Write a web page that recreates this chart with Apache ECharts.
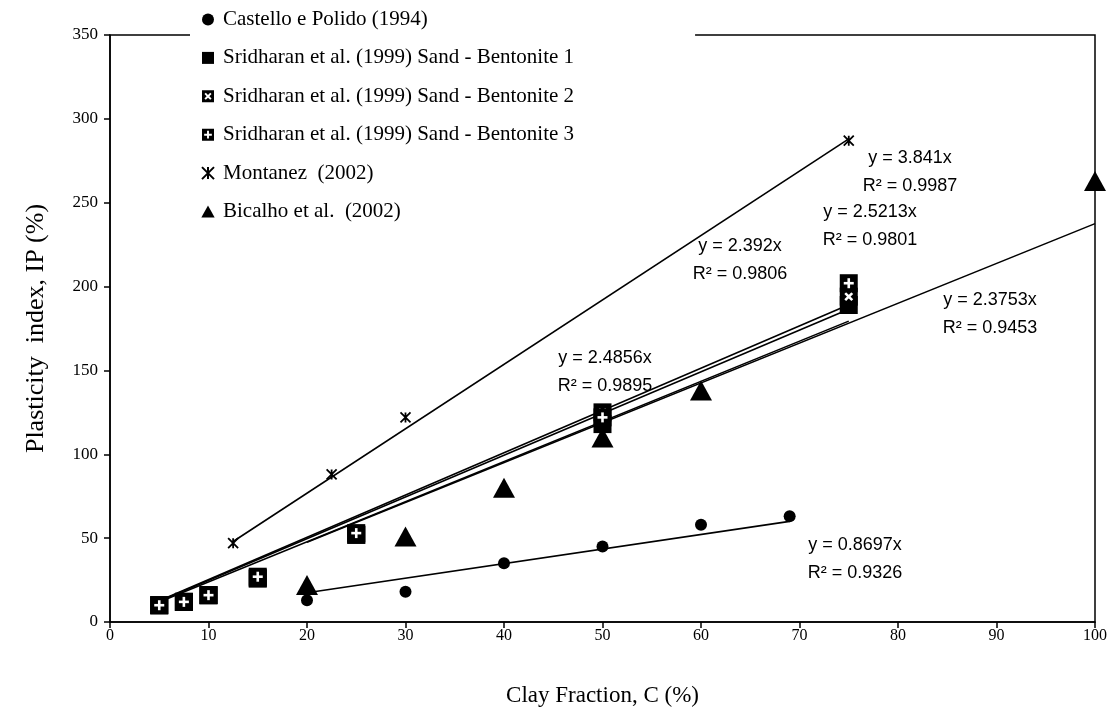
<!DOCTYPE html>
<html>
<head>
<meta charset="utf-8">
<script src="https://cdn.jsdelivr.net/npm/echarts@6/dist/echarts.min.js"></script>
<style>
  html, body { margin: 0; padding: 0; background: #fff; }
  #chart { width: 1107px; height: 720px; }
</style>
</head>
<body>
<div id="chart"></div>
<script>
// 数据：黏粒含量 C (%) 与塑性指数 IP (%)
const seriesNames = [
  'Castello e Polido (1994)',
  'Sridharan et al. (1999) Sand - Bentonite 1',
  'Sridharan et al. (1999) Sand - Bentonite 2',
  'Sridharan et al. (1999) Sand - Bentonite 3',
  'Montanez  (2002)',
  'Bicalho et al.  (2002)'
];

const castelloX = [20, 30, 40, 50, 60, 69];
const castelloY = [13, 18, 35, 45, 58, 63];

const sridharanX = [5, 7.5, 10, 15, 25, 50, 75];
const sridharan1Y = [10, 12, 16, 26, 52, 118, 189];
const sridharan2Y = [10, 12, 16, 26, 52, 125, 194];
const sridharan3Y = [10, 12, 16, 27, 53, 122, 202];

const montanezX = [12.5, 22.5, 30, 75];
const montanezY = [47, 88, 122, 287];

const bicalhoX = [20, 30, 40, 50, 60, 100];
const bicalhoY = [22, 51, 80, 110, 138, 263];

// 趋势线 (过原点) 的斜率与 R²，顺序同 seriesNames
const trendSlopes = [0.8697, 2.392, 2.4856, 2.5213, 3.841, 2.3753];
const trendR2 = ['0.9326', '0.9806', '0.9895', '0.9801', '0.9987', '0.9453'];

const xTicks = { min: 0, max: 100, interval: 10 };
const yTicks = { min: 0, max: 350, interval: 50 };

// 趋势线公式标签第一行的像素中心
const trendLabelPos = [
  [855, 545], [740, 246], [605, 358], [870, 212], [910, 158], [990, 300]
];

const pairs = (xs, ys) => xs.map((x, i) => [x, ys[i]]);

const allX = [castelloX, sridharanX, sridharanX, sridharanX, montanezX, bicalhoX];
const allY = [castelloY, sridharan1Y, sridharan2Y, sridharan3Y, montanezY, bicalhoY];

// 图例用：黑方块中挖出十字 / 叉号
function crossSquare(angleDeg, half, arm) {
  const a = angleDeg * Math.PI / 180;
  const lo = 5 - half, hi = 5 + half, s = 5 - arm, e = 5 + arm;
  const pts = [[lo, s], [lo, lo], [s, lo], [s, hi], [lo, hi], [lo, e],
               [hi, e], [hi, hi], [e, hi], [e, lo], [hi, lo], [hi, s]];
  const rot = pts.map(([x, y]) => {
    const dx = x - 5, dy = y - 5;
    return [5 + dx * Math.cos(a) - dy * Math.sin(a), 5 + dx * Math.sin(a) + dy * Math.cos(a)];
  });
  return 'path://M0 0L10 0L10 10L0 10Z M' +
    rot.map(p => p[0].toFixed(3) + ' ' + p[1].toFixed(3)).join('L') + 'Z';
}

// 图中用：黑方块 + 白色十字 / 叉号
function crossMarker(angle) {
  return function (params, api) {
    const p = api.coord([api.value(0), api.value(1)]);
    return {
      type: 'group',
      x: p[0],
      y: p[1],
      children: [
        { type: 'rect', shape: { x: -9, y: -9, width: 18, height: 18 }, style: { fill: '#000' } },
        {
          type: 'group',
          rotation: angle,
          children: [
            { type: 'rect', shape: { x: -5, y: -1.3, width: 10, height: 2.6 }, style: { fill: '#fff' } },
            { type: 'rect', shape: { x: -1.3, y: -5, width: 2.6, height: 10 }, style: { fill: '#fff' } }
          ]
        }
      ]
    };
  };
}

const starPath = 'path://M0 0L10 10M10 0L0 10M5 0L5 10';
const squarePath = 'path://M0 0L10 0L10 10L0 10Z';
const trianglePath = 'path://M5 0L10 9L0 9Z';

const legendIcons = [
  'circle', squarePath, crossSquare(45, 0.8, 3.4), crossSquare(0, 0.8, 3.2), starPath, trianglePath
];

const serif = '"Liberation Serif", "Times New Roman", serif';

const series = [];

// 趋势线
seriesNames.forEach((name, i) => {
  const xs = allX[i];
  const x0 = Math.min(...xs), x1 = Math.max(...xs);
  series.push({
    name: name + ' trend',
    type: 'line',
    data: [[x0, trendSlopes[i] * x0], [x1, trendSlopes[i] * x1]],
    showSymbol: false,
    symbol: 'none',
    lineStyle: { color: '#000', width: 1.6 },
    z: 3,
    silent: true
  });
});

series.push({
  name: seriesNames[0], type: 'scatter', symbol: 'circle', symbolSize: 12,
  itemStyle: { color: '#000', opacity: 1 }, data: pairs(castelloX, castelloY), z: 5, silent: true
});
series.push({
  name: seriesNames[1], type: 'scatter', symbol: 'rect', symbolSize: 18,
  itemStyle: { color: '#000', opacity: 1 }, data: pairs(sridharanX, sridharan1Y), z: 6, silent: true
});
series.push({
  name: seriesNames[2], type: 'custom', renderItem: crossMarker(Math.PI / 4),
  itemStyle: { color: '#000' }, encode: { x: 0, y: 1 },
  data: pairs(sridharanX, sridharan2Y), z: 7, silent: true
});
series.push({
  name: seriesNames[3], type: 'custom', renderItem: crossMarker(0),
  itemStyle: { color: '#000' }, encode: { x: 0, y: 1 },
  data: pairs(sridharanX, sridharan3Y), z: 8, silent: true
});
series.push({
  name: seriesNames[4], type: 'scatter', symbol: starPath, symbolSize: 10,
  itemStyle: { color: '#000', borderColor: '#000', borderWidth: 1.8, opacity: 1 },
  data: pairs(montanezX, montanezY), z: 9, silent: true
});
series.push({
  name: seriesNames[5], type: 'scatter', symbol: 'triangle', symbolSize: [22, 20],
  itemStyle: { color: '#000', opacity: 1 }, data: pairs(bicalhoX, bicalhoY), z: 10, silent: true
});

const trendLabels = trendSlopes.map((k, i) => ({
  type: 'text',
  x: trendLabelPos[i][0],
  y: trendLabelPos[i][1] - 14,
  z: 20,
  style: {
    text: 'y = ' + k + 'x\nR² = ' + trendR2[i],
    fill: '#000',
    font: '18px "Liberation Sans", Arial, sans-serif',
    align: 'center',
    verticalAlign: 'top',
    lineHeight: 28
  }
}));

const option = {
  animation: false,
  backgroundColor: '#fff',
  grid: {
    left: 110, right: 12, top: 35, bottom: 98,
    outerBoundsMode: 'none',
    containLabel: false,
    show: true, borderColor: '#000', borderWidth: 1.5,
    backgroundColor: 'transparent'
  },
  legend: {
    orient: 'vertical',
    left: 190,
    top: 0,
    padding: [9, 121, 12, 11],
    backgroundColor: '#fff',
    itemWidth: 20,
    itemHeight: 12,
    itemGap: 17.4,
    selectedMode: false,
    data: seriesNames.map((n, i) => ({ name: n, icon: legendIcons[i] })),
    itemStyle: { color: '#000', opacity: 1 },
    textStyle: { fontFamily: serif, fontSize: 21, color: '#000' },
    z: 10
  },
  xAxis: {
    type: 'value',
    min: xTicks.min, max: xTicks.max, interval: xTicks.interval,
    name: 'Clay Fraction, C (%)',
    nameLocation: 'middle',
    nameGap: 62,
    nameTextStyle: { fontFamily: serif, fontSize: 23, color: '#000' },
    axisLine: { show: true, onZero: false, lineStyle: { color: '#000', width: 1.5 } },
    axisTick: { show: true, inside: false, length: 6, lineStyle: { color: '#000', width: 1.5 } },
    axisLabel: { fontFamily: serif, fontSize: 16, color: '#000', margin: 6 },
    splitLine: { show: false }
  },
  yAxis: {
    type: 'value',
    min: yTicks.min, max: yTicks.max, interval: yTicks.interval,
    name: 'Plasticity  index, IP (%)',
    nameLocation: 'middle',
    nameGap: 61,
    nameTextStyle: { fontFamily: serif, fontSize: 26, color: '#000' },
    axisLine: { show: true, onZero: false, lineStyle: { color: '#000', width: 1.5 } },
    axisTick: { show: true, inside: false, length: 6, lineStyle: { color: '#000', width: 1.5 } },
    axisLabel: { fontFamily: serif, fontSize: 17, color: '#000', margin: 12 },
    splitLine: { show: false }
  },
  graphic: trendLabels,
  series: series
};

const chart = echarts.init(document.getElementById('chart'));
chart.setOption(option);
window.addEventListener('resize', () => chart.resize());
</script>
</body>
</html>
